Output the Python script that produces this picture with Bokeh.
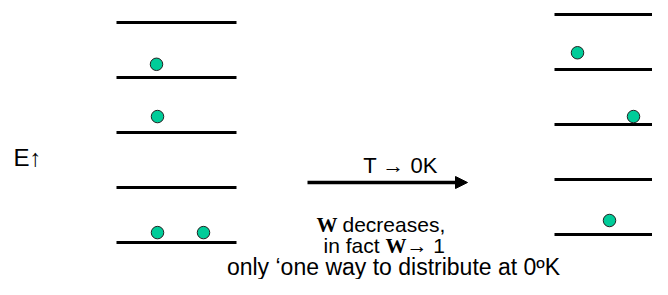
from bokeh.plotting import figure
from bokeh.models import Range1d, Arrow, NormalHead
from bokeh.core.properties import value
from bokeh.embed import file_html
from bokeh.resources import INLINE

# ---- data (energy levels in units of level spacing) ----
levels = [0, 1, 2, 3, 4]
left_particle_x = [157, 203, 157, 156]
left_particle_e = [0.18, 0.18, 2.29, 3.24]
right_particle_x = [609, 665, 633, 577]
right_particle_e = [0.40, 0.40, 2.29, 3.45]
right_shift = 0.145

title_arrow = "T \u2192 0K"
energy_label = "E\u2191"
line1_b, line1_r = "W", "decreases,"
line2_a, line2_b, line2_c = "in fact", "W", "\u2192 1"
line3 = "only \u2018one way to distribute at 0\u00baK"

W = 652
H = 279
PX = 55.0  # pixels per level spacing


def ey(px):
    return (242 - px) / PX


p = figure(width=W, height=H, output_backend="svg", toolbar_location=None,
           x_range=Range1d(0, W), y_range=Range1d(ey(H), ey(0)),
           min_border=0, min_border_left=0, min_border_right=0,
           min_border_top=0, min_border_bottom=0)
p.axis.visible = False
p.grid.visible = False
p.outline_line_color = None
p.background_fill_color = "white"
p.border_fill_color = "white"

# level lines
p.segment(x0=[116] * len(levels), x1=[236] * len(levels), y0=levels, y1=levels,
          line_color="black", line_width=3)
rlev = [l + right_shift for l in levels]
p.segment(x0=[554] * len(levels), x1=[700] * len(levels), y0=rlev, y1=rlev,
          line_color="black", line_width=3)

# particles
p.scatter(left_particle_x, left_particle_e, size=12.5, fill_color="#00CC99",
          line_color="#222222", line_width=1)
p.scatter(right_particle_x, right_particle_e, size=12.5, fill_color="#00CC99",
          line_color="#222222", line_width=1)

# arrow
ay = ey(182)
p.add_layout(Arrow(end=NormalHead(size=12, fill_color="black", line_color="black", line_width=1),
                   x_start=307, y_start=ay, x_end=467, y_end=ay,
                   line_width=3.5, line_color="black"))

sans = value("Liberation Sans")
serif = value("Liberation Serif")


def txt(x, y, s, font=sans, size="21px", align="left", style="normal"):
    p.text(x=[x], y=[y], text=[s], text_font=font, text_font_size=size,
           text_font_style=style, text_baseline="alphabetic", text_align=align,
           text_color="black")


txt(13, ey(157), energy_label, size="24px")
txt(400, ey(165), title_arrow, size="22px", align="center")

# line 1
b1 = ey(224)
txt(316, b1, line1_b, font=serif, style="bold")
txt(342, b1, line1_r)
# line 2
b2 = ey(245)
txt(323, b2, line2_a)
txt(385, b2, line2_b, font=serif, style="bold")
txt(406, b2, line2_c)
# line 3
txt(393, ey(266), line3, size="23px", align="center")

open("out.html", "w").write(file_html(p, INLINE))
